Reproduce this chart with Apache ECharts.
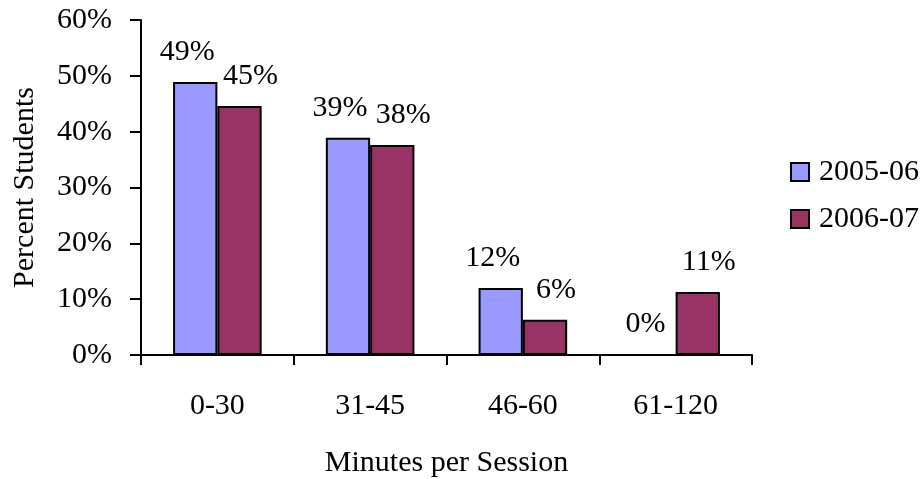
<!DOCTYPE html>
<html>
<head>
<meta charset="utf-8">
<script src="https://cdn.jsdelivr.net/npm/echarts@6/dist/echarts.min.js"></script>
<style>
html,body{margin:0;padding:0;background:#fff;}
#chart{width:924px;height:479px;}
</style>
</head>
<body>
<div id="chart"></div>
<script>
var categories = ['0-30', '31-45', '46-60', '61-120'];
var seriesNames = ['2005-06', '2006-07'];
var values2005 = [48.9, 38.9, 12.0, 0];
var values2006 = [44.6, 37.6, 6.3, 11.3];
var yTicks = [0, 10, 20, 30, 40, 50, 60];

var FONT = '"Liberation Serif", "Times New Roman", serif';
var chart = echarts.init(document.getElementById('chart'), null, {renderer: 'canvas'});

function labelCfg(dx) {
  return {
    show: true,
    position: 'top',
    distance: 15,
    offset: [dx, 0],
    color: '#000',
    fontFamily: FONT,
    fontSize: 30,
    formatter: function (p) { return Math.round(p.value) + '%'; }
  };
}

chart.setOption({
  animation: false,
  backgroundColor: '#fff',
  textStyle: {fontFamily: FONT, color: '#000'},
  grid: {left: 141, right: 172, top: 20, bottom: 124, containLabel: false, outerBoundsMode: 'none'},
  legend: {
    orient: 'vertical',
    left: 785,
    top: 152,
    itemWidth: 18,
    itemHeight: 18,
    itemGap: 17,
    icon: 'rect',
    textStyle: {fontFamily: FONT, fontSize: 30, color: '#000', padding: [0, 0, 0, 5]},
    data: seriesNames
  },
  xAxis: {
    type: 'category',
    data: categories,
    name: 'Minutes per Session',
    nameLocation: 'middle',
    nameGap: 93,
    nameTextStyle: {fontFamily: FONT, fontSize: 30, color: '#000'},
    axisLine: {lineStyle: {color: '#000', width: 2}},
    axisTick: {show: true, length: 10, alignWithLabel: false, lineStyle: {color: '#000', width: 2}},
    axisLabel: {margin: 36, fontFamily: FONT, fontSize: 30, color: '#000'},
    splitLine: {show: false}
  },
  yAxis: {
    type: 'value',
    min: yTicks[0],
    max: yTicks[yTicks.length - 1],
    interval: 10,
    name: 'Percent Students',
    nameLocation: 'middle',
    nameGap: 101,
    nameRotate: 90,
    nameTextStyle: {fontFamily: FONT, fontSize: 30, color: '#000'},
    axisLine: {show: true, lineStyle: {color: '#000', width: 2}},
    axisTick: {show: true, length: 11, lineStyle: {color: '#000', width: 2}},
    axisLabel: {margin: 29, fontFamily: FONT, fontSize: 30, color: '#000', formatter: '{value}%'},
    splitLine: {show: false}
  },
  series: [
    {
      name: seriesNames[0],
      type: 'bar',
      data: values2005,
      barGap: '0%',
      barCategoryGap: '42%',
      itemStyle: {color: '#9999FF', borderColor: '#000', borderWidth: 2},
      label: labelCfg(-8)
    },
    {
      name: seriesNames[1],
      type: 'bar',
      data: values2006,
      barGap: '0%',
      barCategoryGap: '42%',
      itemStyle: {color: '#993366', borderColor: '#000', borderWidth: 2},
      label: labelCfg(11)
    }
  ]
});
</script>
</body>
</html>
